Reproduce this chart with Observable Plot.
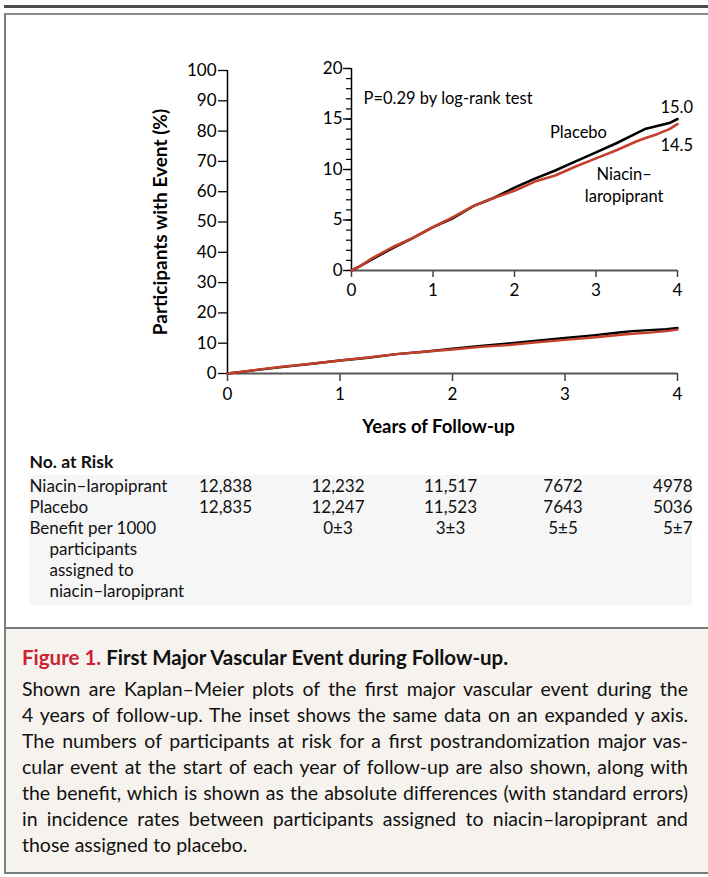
<!DOCTYPE html>
<html><head><meta charset="utf-8">
<script src="https://cdn.jsdelivr.net/npm/d3@7"></script>
<script src="https://cdn.jsdelivr.net/npm/@observablehq/plot@0.6"></script>
<style>
body{margin:0;background:#fff;font-family:Lato,"Open Sans",sans-serif;}
#page{position:relative;width:708px;height:877px;overflow:hidden;background:#fff;}
.abs{position:absolute;}
.cl{white-space:nowrap;width:666px;height:26px;line-height:26px;font-size:19.5px;color:#111;}
.j{text-align:justify;text-align-last:justify;}
</style></head><body><div id="page">
<div class="abs" style="left:4px;top:5px;width:704px;height:3px;background:#4d4d4d"></div>
<div class="abs" style="left:4px;top:13px;width:720px;height:614px;border-left:2px solid #7d7d7d;border-top:2px solid #8a8a8a;"></div>
<div class="abs" style="left:29px;top:475px;width:663px;height:130px;background:#f6f6f6"></div>
<div id="main" class="abs" style="left:0;top:0"></div>
<div id="inset" class="abs" style="left:300px;top:55px"></div>
<div id="table" class="abs" style="left:0;top:440px"></div>
<div class="abs" style="left:4px;top:627px;width:720px;height:243px;border-top:2px solid #7a7a7a;border-bottom:2px solid #7a7a7a;border-left:2px solid #7d7d7d;background:#f6f3ee;"></div>
<div class="abs" id="caption" style="left:22px;top:644px;">
  <div class="cl" style="font-weight:bold;font-size:20.5px;"><span style="color:#cc2233">Figure 1.</span> First Major Vascular Event during Follow-up.</div>
  <div style="height:6px"></div>
  <div class="cl j">Shown are Kaplan–Meier plots of the first major vascular event during the</div>
  <div class="cl j">4 years of follow-up. The inset shows the same data on an expanded y axis.</div>
  <div class="cl j">The numbers of participants at risk for a first postrandomization major vas-</div>
  <div class="cl j">cular event at the start of each year of follow-up are also shown, along with</div>
  <div class="cl j">the benefit, which is shown as the absolute differences (with standard errors)</div>
  <div class="cl j">in incidence rates between participants assigned to niacin–laropiprant and</div>
  <div class="cl">those assigned to placebo.</div>
</div>
</div>
<script>
// ---- data ----
const years   = [0, 0.1, 0.25, 0.5, 0.75, 1, 1.25, 1.5, 1.75, 2, 2.25, 2.5, 2.75, 3, 3.25, 3.5, 3.6, 3.75, 3.9, 4];
const placebo = [0, 0.4, 1.1, 2.2, 3.2, 4.3, 5.2, 6.4, 7.2, 8.2, 9.1, 9.9, 10.8, 11.7, 12.6, 13.6, 14.0, 14.3, 14.6, 15.0];
const niacin  = [0, 0.4, 1.2, 2.3, 3.2, 4.3, 5.3, 6.4, 7.2, 7.9, 8.8, 9.4, 10.3, 11.1, 11.9, 12.8, 13.1, 13.5, 14.0, 14.5];
const tickYears = [0, 1, 2, 3, 4];
const mainYTicks = [0, 10, 20, 30, 40, 50, 60, 70, 80, 90, 100];
const insetYTicks = [0, 5, 10, 15, 20];
const insetMinorTicks = [0,1,2,3,4,5,6,7,8,9,10,11,12,13,14,15,16,17,18,19,20];
const riskNiacin  = ["12,838", "12,232", "11,517", "7672", "4978"];
const riskPlacebo = ["12,835", "12,247", "11,523", "7643", "5036"];
const benefit     = ["", "0±3", "3±3", "5±5", "5±7"];
const rowLabels   = ["Niacin–laropiprant", "Placebo", "Benefit per 1000"];
const rowLabelsCont = ["participants", "assigned to", "niacin–laropiprant"];
const finalPlacebo = "15.0", finalNiacin = "14.5";

const BLACK = "#000", RED = "#c4402c";
const plac = years.map((t, i) => ({year: t, pct: placebo[i]}));
const niac = years.map((t, i) => ({year: t, pct: niacin[i]}));
const font = "Lato, 'Open Sans', sans-serif";

// ---- main chart ----
const main = Plot.plot({
  width: 708, height: 440,
  marginLeft: 227, marginRight: 31, marginTop: 70, marginBottom: 67,
  x: {domain: [0, 4]}, y: {domain: [0, 100]},
  style: {fontFamily: font, fontSize: "17px", color: "#000", background: "transparent", overflow: "visible"},
  marks: [
    Plot.axisY({ticks: mainYTicks, tickSize: 9, tickPadding: 2, label: null, tickFormat: d => d, strokeWidth: 1.3}),
    Plot.axisX({ticks: tickYears, tickSize: 8, tickPadding: 6, label: null, tickFormat: d => d, stroke: "#444", strokeWidth: 1.5}),
    Plot.ruleY([0], {stroke: "#555", strokeWidth: 2}),
    Plot.ruleX([0], {stroke: "#000", strokeWidth: 1.5}),
    Plot.line(plac, {x: "year", y: "pct", stroke: BLACK, strokeWidth: 2.4}),
    Plot.line(niac, {x: "year", y: "pct", stroke: RED, strokeWidth: 2.4}),
    Plot.text(["Participants with Event (%)"], {frameAnchor: "left", dx: -67, rotate: -90, textAnchor: "middle", lineAnchor: "middle", fontWeight: "bold", fontSize: 19, text: d => d}),
    Plot.text(["Years of Follow-up"], {frameAnchor: "bottom", dy: 54, dx: -14, textAnchor: "middle", lineAnchor: "middle", fontWeight: "bold", fontSize: 18.5, text: d => d})
  ]
});
document.getElementById("main").appendChild(main);

// ---- inset ----
const inset = Plot.plot({
  width: 408, height: 250,
  marginLeft: 51, marginRight: 31, marginTop: 13, marginBottom: 35,
  x: {domain: [0, 4]}, y: {domain: [0, 20]},
  style: {fontFamily: font, fontSize: "17px", color: "#000", background: "transparent", overflow: "visible"},
  marks: [
    Plot.axisY({ticks: insetMinorTicks, tickSize: 5, tickFormat: () => "", label: null, strokeWidth: 1.2}),
    Plot.axisY({ticks: insetYTicks, tickSize: 8, tickPadding: 1, label: null, tickFormat: d => d, strokeWidth: 1.3}),
    Plot.axisX({ticks: tickYears, tickSize: 7, tickPadding: 6, label: null, tickFormat: d => d, stroke: "#444", strokeWidth: 1.5}),
    Plot.ruleY([0], {stroke: "#555", strokeWidth: 2}),
    Plot.ruleX([0], {stroke: "#000", strokeWidth: 1.5}),
    Plot.line(plac, {x: "year", y: "pct", stroke: BLACK, strokeWidth: 2.6}),
    Plot.line(niac, {x: "year", y: "pct", stroke: RED, strokeWidth: 2.6}),
    Plot.text(["P=0.29 by log-rank test"], {x: 0.147, y: 17.03, text: d => d, textAnchor: "start", fontSize: 16.5}),
    Plot.text(["Placebo"], {x: 2.785, y: 13.66, text: d => d, fontSize: 16.5}),
    Plot.text([finalPlacebo], {x: 3.79, y: 16.14, text: d => d, textAnchor: "start", fontSize: 16.5}),
    Plot.text([finalNiacin], {x: 3.79, y: 12.38, text: d => d, textAnchor: "start", fontSize: 16.5}),
    Plot.text(["Niacin–\nlaropiprant"], {x: 3.345, y: 8.56, text: d => d, lineHeight: 1.3, fontSize: 16.5})
  ]
});
document.getElementById("inset").appendChild(inset);

// ---- at-risk table ----
const rowKeys = [...rowLabels, ...rowLabelsCont];
const cells = [];
tickYears.forEach((t, i) => {
  cells.push({year: t, row: rowLabels[0], value: riskNiacin[i]});
  cells.push({year: t, row: rowLabels[1], value: riskPlacebo[i]});
  if (benefit[i]) cells.push({year: t, row: rowLabels[2], value: benefit[i]});
});
const table = Plot.plot({
  width: 708, height: 180,
  marginLeft: 227, marginRight: 31, marginTop: 0, marginBottom: 0,
  x: {domain: [0, 4], axis: null},
  y: {type: "point", domain: rowKeys, range: [46, 151], padding: 0, axis: null},
  style: {fontFamily: font, fontSize: "17px", color: "#111", background: "transparent", overflow: "visible"},
  marks: [
    Plot.text(["No. at Risk"], {frameAnchor: "top-left", dx: -198, dy: 22, text: d => d, textAnchor: "start", lineAnchor: "middle", fontWeight: "bold", fontSize: 17.5}),
    Plot.text(rowLabels, {y: d => d, text: d => d, frameAnchor: "left", dx: -198, textAnchor: "start", lineAnchor: "middle"}),
    Plot.text(rowLabelsCont, {y: d => d, text: d => d, frameAnchor: "left", dx: -178, textAnchor: "start", lineAnchor: "middle"}),
    Plot.text(cells, {filter: d => d.year < 4, x: "year", y: "row", text: "value", dx: -2}),
    Plot.text(cells, {filter: d => d.year === 4, x: "year", y: "row", text: "value", textAnchor: "end", dx: 15})
  ]
});
document.getElementById("table").appendChild(table);
</script>
</body></html>
